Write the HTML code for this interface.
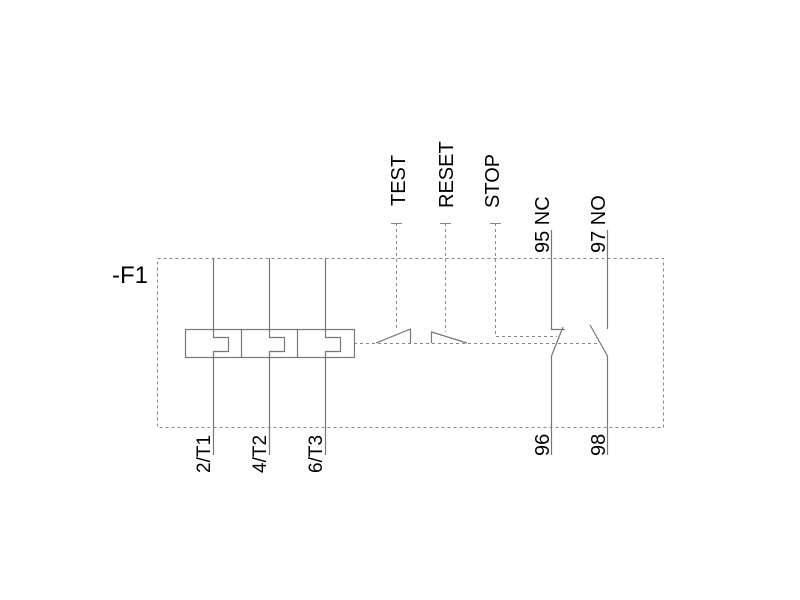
<!DOCTYPE html>
<html><head><style>body{margin:0;background:#fff}svg{display:block}</style></head>
<body>
<svg width="800" height="600" viewBox="0 0 800 600" xmlns="http://www.w3.org/2000/svg" font-family="Liberation Sans, Arial, sans-serif">
<g fill="none" stroke="#888" stroke-width="1">
<rect x="157.5" y="258.5" width="506" height="169" stroke-dasharray="3,3"/>
<path d="M354 343.5H600" stroke-dasharray="3,3"/>
<path d="M396.5 223V329M445.5 223V332M495.5 223V336.5H557" stroke-dasharray="3,3"/>
<path d="M391 223.5H402M440 223.5H451M490 223.5H501"/>
</g>
<g fill="none" stroke="#777" stroke-width="1.2">
<rect x="185.5" y="329.5" width="169" height="28"/>
<path d="M241.5 329.5V357.5M297.5 329.5V357.5"/>
<path d="M213.5 258V337.5H228.5V351.5H213.5V455"/>
<path d="M269.5 258V337.5H284.5V351.5H269.5V455"/>
<path d="M325.5 258V337.5H340.5V351.5H325.5V455"/>
<path d="M376 343L410.5 329V343"/>
<path d="M431.5 343V332L467 343"/>
<path d="M551.5 230V329.5H565M563 327L551.5 356V455"/>
<path d="M607.5 230V329M590 325L607.5 356V455"/>
</g>
<g fill="#000" font-size="20">
<text x="112" y="283" font-size="24">-F1</text>
<text transform="translate(405,206) rotate(-90)">TEST</text>
<text transform="translate(453,208) rotate(-90)">RESET</text>
<text transform="translate(499,208) rotate(-90)">STOP</text>
<text transform="translate(549,253) rotate(-90)">95 NC</text>
<text transform="translate(605,253) rotate(-90)">97 NO</text>
<text transform="translate(210,473) rotate(-90)" font-size="19">2/T1</text>
<text transform="translate(266,473) rotate(-90)" font-size="19">4/T2</text>
<text transform="translate(322,473) rotate(-90)" font-size="19">6/T3</text>
<text transform="translate(549,456) rotate(-90)">96</text>
<text transform="translate(605,456) rotate(-90)">98</text>
</g>
</svg>
</body></html>
